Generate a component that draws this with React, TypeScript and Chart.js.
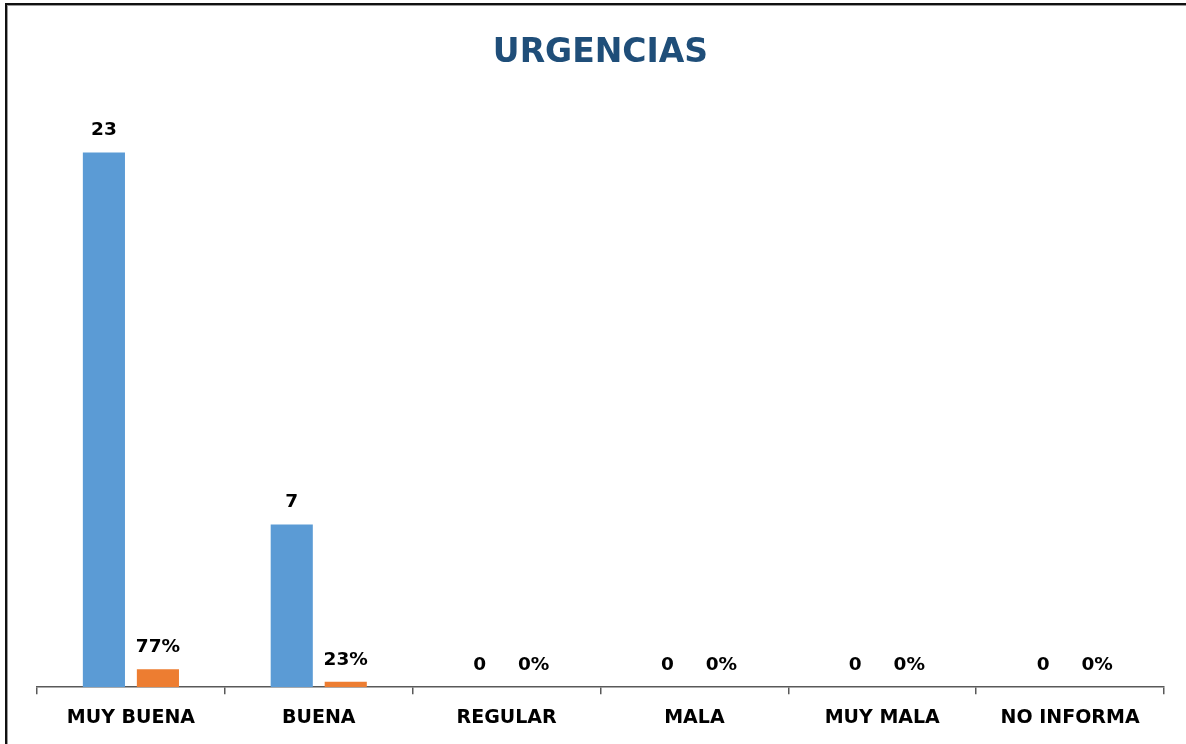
import React, { useEffect, useRef } from "react";
import { Chart, registerables } from "chart.js";

Chart.register(...registerables);

const TITLE = "URGENCIAS";
const CATEGORIES = ["MUY BUENA", "BUENA", "REGULAR", "MALA", "MUY MALA", "NO INFORMA"];
const COUNTS = [23, 7, 0, 0, 0, 0];
const PERCENTS = [0.77, 0.23, 0, 0, 0, 0];

const FONT = "'DejaVu Sans', sans-serif";

const framePlugin = {
  id: "frame",
  beforeDraw(chart: any) {
    const ctx = chart.ctx;
    ctx.save();
    ctx.fillStyle = "#ffffff";
    ctx.fillRect(0, 0, chart.width, chart.height);
    ctx.fillStyle = "#111111";
    ctx.fillRect(5, 3, 2, chart.height - 3);
    ctx.fillRect(5, 3, chart.width - 5, 2);
    ctx.fillStyle = "#9a9a9a";
    ctx.fillRect(7, 5, 1, chart.height - 5);
    ctx.fillRect(7, 5, chart.width - 7, 1);
    ctx.restore();
  },
  afterDraw(chart: any) {
    const ctx = chart.ctx;
    const area = chart.chartArea;
    ctx.save();
    ctx.font = `bold 33px ${FONT}`;
    ctx.fillStyle = "#1F4E79";
    ctx.textAlign = "center";
    ctx.textBaseline = "alphabetic";
    ctx.fillText(TITLE, (area.left + area.right) / 2, 62);
    ctx.restore();
  },
};

const labelPlugin = {
  id: "barLabels",
  afterDatasetsDraw(chart: any) {
    const ctx = chart.ctx;
    ctx.save();
    ctx.font = `bold 18.5px ${FONT}`;
    ctx.fillStyle = "#000000";
    ctx.textAlign = "center";
    ctx.textBaseline = "alphabetic";
    chart.data.datasets.forEach((ds: any, i: number) => {
      const meta = chart.getDatasetMeta(i);
      meta.data.forEach((bar: any, j: number) => {
        const v = ds.data[j];
        const text = i === 0 ? String(v) : Math.round(v * 100) + "%";
        ctx.fillText(text, bar.x, bar.y - 17);
      });
    });
    ctx.restore();
  },
};

export default function App() {
  const ref = useRef<HTMLCanvasElement>(null);
  useEffect(() => {
    if (!ref.current) return;
    const chart = new Chart(ref.current, {
      type: "bar",
      data: {
        labels: CATEGORIES,
        datasets: [
          {
            label: "Cantidad",
            data: COUNTS,
            backgroundColor: "#5B9BD5",
            categoryPercentage: 0.575,
            barPercentage: 0.78,
          },
          {
            label: "Porcentaje",
            data: PERCENTS,
            backgroundColor: "#ED7D31",
            categoryPercentage: 0.575,
            barPercentage: 0.78,
          },
        ],
      },
      options: {
        responsive: false,
        animation: false,
        layout: { padding: { left: 37, right: 22, top: 106, bottom: 2 } },
        plugins: {
          legend: { display: false },
          title: { display: false },
          tooltip: { enabled: false },
        },
        scales: {
          x: {
            grid: {
              display: true,
              drawOnChartArea: false,
              drawTicks: true,
              tickLength: 7,
              color: "#595959",
              lineWidth: 1.5,
              offset: true,
            },
            border: { display: true, color: "#595959", width: 1.5 },
            ticks: {
              color: "#000000",
              font: { family: FONT, size: 19, weight: "bold" },
              padding: 12.5,
              maxRotation: 0,
              autoSkip: false,
            },
          },
          y: {
            display: false,
            min: 0,
            max: 25,
          },
        },
      },
      plugins: [framePlugin, labelPlugin],
    });
    return () => chart.destroy();
  }, []);
  return (
    <div style={{ position: "fixed", left: 0, top: 0, width: 1186, height: 744, background: "#fff" }}>
      <canvas ref={ref} width={1186} height={744} style={{ display: "block" }} />
    </div>
  );
}
